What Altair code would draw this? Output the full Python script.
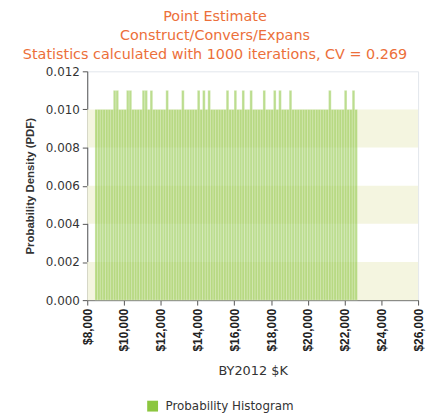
import altair as alt
import pandas as pd

# ---- data ----
bin_start = 8420.0
bin_width = 142.8
densities = [
    0.010, 0.010, 0.010, 0.010, 0.010, 0.010, 0.010, 0.011, 0.011, 0.010,
    0.010, 0.010, 0.011, 0.011, 0.010, 0.010, 0.010, 0.010, 0.011, 0.011,
    0.010, 0.011, 0.010, 0.010, 0.010, 0.010, 0.010, 0.011, 0.010, 0.010,
    0.010, 0.010, 0.010, 0.011, 0.010, 0.010, 0.010, 0.010, 0.010, 0.011,
    0.010, 0.011, 0.010, 0.011, 0.010, 0.010, 0.010, 0.010, 0.010, 0.010,
    0.011, 0.010, 0.010, 0.011, 0.010, 0.010, 0.011, 0.010, 0.010, 0.011,
    0.010, 0.010, 0.010, 0.010, 0.011, 0.010, 0.010, 0.010, 0.011, 0.010,
    0.011, 0.010, 0.010, 0.010, 0.011, 0.010, 0.010, 0.010, 0.010, 0.010,
    0.010, 0.010, 0.010, 0.010, 0.010, 0.010, 0.010, 0.010, 0.010, 0.011,
    0.010, 0.010, 0.010, 0.010, 0.010, 0.011, 0.010, 0.010, 0.011, 0.010,
]
series_name = "Probability Histogram"
x_ticks = [8000, 10000, 12000, 14000, 16000, 18000, 20000, 22000, 24000, 26000]
y_ticks = [0.000, 0.002, 0.004, 0.006, 0.008, 0.010, 0.012]
band_lo = [0.000, 0.004, 0.008]
band_hi = [0.002, 0.006, 0.010]
title_lines = ["Point Estimate", "Construct/Convers/Expans",
               "Statistics calculated with 1000 iterations, CV = 0.269"]

lo = [bin_start + i * bin_width for i in range(len(densities))]
hi = [v + bin_width for v in lo]
df = pd.DataFrame({"lo": lo, "hi": hi, "density": densities,
                   "series": [series_name] * len(densities)})
bands = pd.DataFrame({"x": [x_ticks[0]] * 3, "x2": [x_ticks[-1]] * 3,
                      "y": band_lo, "y2": band_hi})

xscale = alt.Scale(domain=[x_ticks[0], x_ticks[-1]], nice=False, zero=False)
yscale = alt.Scale(domain=[y_ticks[0], y_ticks[-1]], nice=False)

xaxis = alt.Axis(values=x_ticks, format="$,.0f", labelAngle=-90,
                 labelFont="Liberation Sans", labelFontSize=12, labelFontWeight="bold",
                 labelColor="#222", tickSize=5, tickColor="#555", domainColor="#555",
                 labelPadding=3, grid=False, title="BY2012 $K",
                 titleFont="DejaVu Sans", titleFontSize=13, titleFontWeight="normal",
                 titleColor="#333", titlePadding=14)
yaxis = alt.Axis(values=y_ticks, format=".3f", labelFont="DejaVu Sans",
                 labelFontSize=12, labelColor="#333", tickSize=5, tickColor="#555",
                 domainColor="#555", labelPadding=3, grid=False,
                 title="Probability Density (PDF)", titleFont="Liberation Sans",
                 titleFontSize=11.5, titleFontWeight="bold", titleColor="#333",
                 titlePadding=10)

band_layer = alt.Chart(bands).mark_rect(color="#f4f5e0").encode(
    x=alt.X("x:Q", scale=xscale, axis=xaxis),
    x2="x2:Q",
    y=alt.Y("y:Q", scale=yscale, axis=yaxis),
    y2="y2:Q",
)

bar_layer = alt.Chart(df).mark_rect(opacity=0.58, stroke="white",
                                    strokeWidth=0.4, strokeOpacity=0.7).encode(
    x=alt.X("lo:Q", scale=xscale, axis=xaxis),
    x2="hi:Q",
    y=alt.Y("density:Q", scale=yscale, axis=yaxis),
    y2=alt.datum(0),
    color=alt.Color("series:N", scale=alt.Scale(range=["#8cc63f"]),
                    legend=alt.Legend(title=None, orient="none", legendX=60, legendY=332,
                                      symbolType="square", symbolSize=120,
                                      symbolOpacity=1, symbolStrokeWidth=0,
                                      labelFont="DejaVu Sans", labelFontSize=12,
                                      labelOffset=7, labelColor="#333")),
)

chart = alt.layer(band_layer, bar_layer).properties(
    width=334, height=231,
    autosize=alt.AutoSizeParams(type="none"),
    padding={"left": 80, "top": 62, "right": 9, "bottom": 112},
    title=alt.TitleParams(text=title_lines, font="DejaVu Sans", fontSize=14.5,
                          fontWeight="normal", color="#ec6f3a", anchor="middle",
                          lineHeight=19, offset=3, dx=-38),
).configure_view(stroke="#e2e6ec", strokeWidth=1)

chart.save("out.html", embed_options={"renderer": "svg", "actions": False})
